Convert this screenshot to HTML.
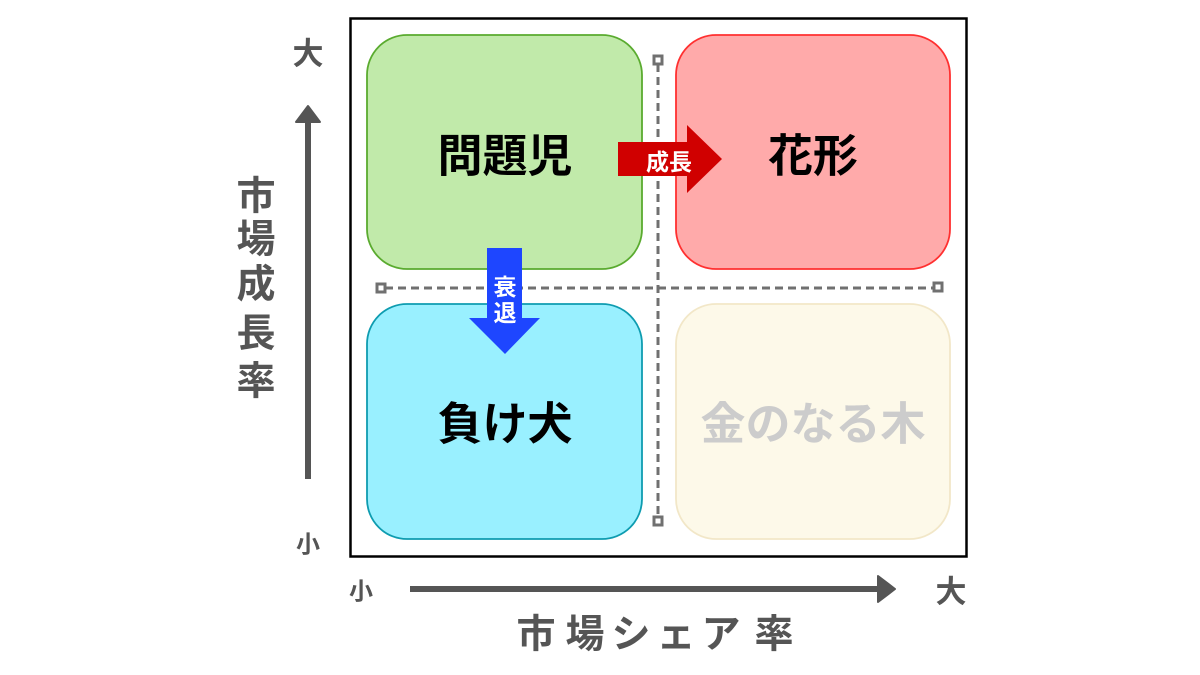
<!DOCTYPE html>
<html>
<head>
<meta charset="utf-8">
<style>
html,body{margin:0;padding:0;background:#fff;}
svg{display:block;}
text{font-family:"Liberation Sans","Noto Sans CJK JP",sans-serif;font-weight:bold;}
</style>
</head>
<body>
<svg width="1200" height="675" viewBox="0 0 1200 675" xmlns="http://www.w3.org/2000/svg">
  <rect x="0" y="0" width="1200" height="675" fill="#ffffff"/>
  <!-- frame -->
  <rect x="350.5" y="18.5" width="616" height="538" fill="#ffffff" stroke="#000" stroke-width="2.5"/>

  <!-- quadrant boxes -->
  <rect x="367" y="35" width="275" height="234" rx="40" ry="40" fill="#c1eaaa" stroke="#5aab2f" stroke-width="1.8"/>
  <rect x="676" y="35" width="274" height="234" rx="40" ry="40" fill="#ffaaaa" stroke="#ff3030" stroke-width="1.8"/>
  <rect x="367" y="304" width="275" height="235" rx="40" ry="40" fill="#99f0ff" stroke="#0e9cb0" stroke-width="1.8"/>
  <rect x="676" y="304" width="274" height="235" rx="40" ry="40" fill="#fdf9e9" stroke="#f2e7c8" stroke-width="1.8"/>

  <!-- dashed guides -->
  <g stroke="#707070" stroke-width="3" fill="none">
    <line x1="658" y1="64" x2="658" y2="517" stroke-dasharray="8,5"/>
    <line x1="385" y1="288" x2="934" y2="288" stroke-dasharray="8,5"/>
    <rect x="654" y="56" width="8" height="8" fill="#fff"/>
    <rect x="654" y="517" width="8" height="8" fill="#fff"/>
    <rect x="377" y="284" width="8" height="8" fill="#fff"/>
    <rect x="934" y="283" width="8" height="8" fill="#fff"/>
  </g>

  <!-- labels in boxes -->
  <text x="505" y="156" font-size="45" text-anchor="middle" dominant-baseline="central" fill="#000">問題児</text>
  <text x="813" y="156" font-size="45" text-anchor="middle" dominant-baseline="central" fill="#000">花形</text>
  <text x="505" y="424" font-size="45" text-anchor="middle" dominant-baseline="central" fill="#000">負け犬</text>
  <text x="813" y="424" font-size="45" text-anchor="middle" dominant-baseline="central" fill="#cccccc">金のなる木</text>

  <!-- growth arrow -->
  <polygon points="618,142 687,142 687,125 722,159 687,193 687,176 618,176" fill="#d00000"/>
  <text x="669" y="162" font-size="23" text-anchor="middle" dominant-baseline="central" fill="#fff">成長</text>

  <!-- decline arrow -->
  <polygon points="487,248 522,248 522,318 540,318 505,354 469,318 487,318" fill="#1e46ff"/>
  <text x="505" y="287" font-size="23" text-anchor="middle" dominant-baseline="central" fill="#fff">衰</text>
  <text x="505" y="313" font-size="23" text-anchor="middle" dominant-baseline="central" fill="#fff">退</text>

  <!-- vertical axis -->
  <rect x="305" y="120" width="6" height="359" fill="#555"/>
  <polygon points="308,106 320,122 296,122" fill="#555" stroke="#555" stroke-width="2" stroke-linejoin="round"/>
  <text x="308" y="54" font-size="31" text-anchor="middle" dominant-baseline="central" fill="#555">大</text>
  <text x="308" y="545" font-size="24" text-anchor="middle" dominant-baseline="central" fill="#555">小</text>
  <g font-size="39" text-anchor="middle" dominant-baseline="central" fill="#555">
    <text x="256" y="197">市</text>
    <text x="256" y="240">場</text>
    <text x="256" y="285">成</text>
    <text x="256" y="334">長</text>
    <text x="256" y="382">率</text>
  </g>

  <!-- horizontal axis -->
  <rect x="410" y="586" width="468" height="6" fill="#555"/>
  <polygon points="895,589 878,576 878,602" fill="#555" stroke="#555" stroke-width="2" stroke-linejoin="round"/>
  <text x="361" y="592" font-size="24" text-anchor="middle" dominant-baseline="central" fill="#555">小</text>
  <text x="951" y="592" font-size="31" text-anchor="middle" dominant-baseline="central" fill="#555">大</text>
  <g font-size="39" text-anchor="middle" dominant-baseline="central" fill="#555">
    <text x="536" y="635">市</text>
    <text x="585" y="635">場</text>
    <text x="631" y="635">シ</text>
    <text x="676" y="635">ェ</text>
    <text x="721" y="635">ア</text>
    <text x="774" y="635">率</text>
  </g>
</svg>
</body>
</html>
